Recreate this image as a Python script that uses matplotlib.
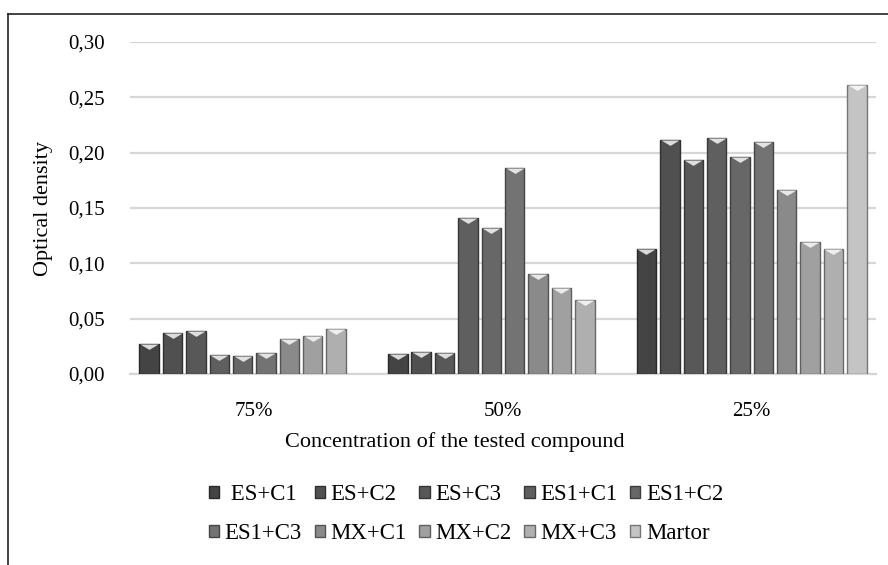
import matplotlib.pyplot as plt
import numpy as np
from matplotlib.colors import to_rgb
from matplotlib.lines import Line2D

plt.rcParams['font.family'] = ['Liberation Serif', 'DejaVu Serif']

categories = ['75%', '50%', '25%']
series = [' ES+C1', 'ES+C2', 'ES+C3', 'ES1+C1', 'ES1+C2',
          'ES1+C3', 'MX+C1', 'MX+C2', 'MX+C3', 'Martor']
# one row per series: values at 75%, 50%, 25%
values = [
    [0.027, 0.018, 0.113],
    [0.037, 0.020, 0.211],
    [0.039, 0.019, 0.193],
    [0.017, 0.141, 0.213],
    [0.016, 0.132, 0.196],
    [0.019, 0.186, 0.210],
    [0.032, 0.090, 0.166],
    [0.034, 0.078, 0.119],
    [0.041, 0.067, 0.113],
    [np.nan, np.nan, 0.261],  # no Martor bar at 75% and 50%
]
colors = ['#444444', '#505050', '#585858', '#5f5f5f', '#676767',
          '#737373', '#8a8a8a', '#a0a0a0', '#afafaf', '#c4c4c4']
yticks = [0.0, 0.05, 0.10, 0.15, 0.20, 0.25, 0.30]


def shade(c, f):
    r, g, b = to_rgb(c)
    if f < 0:
        return (r * (1 + f), g * (1 + f), b * (1 + f))
    return (r + (1 - r) * f, g + (1 - g) * f, b + (1 - b) * f)


fig = plt.figure(figsize=(8.88, 5.65), dpi=100)
ax = fig.add_axes([130 / 888, 1 - 374 / 565, 746 / 888, 332 / 565])

x = np.arange(len(categories))
slot = 0.094
width = 0.078
tri = [(-1, 0), (1, 0), (0, -0.6)]
handles = []
for i, name in enumerate(series):
    pos = x + (i - 4.5) * slot
    b = ax.bar(pos, values[i], width, color=colors[i], edgecolor=shade(colors[i], -0.4),
               linewidth=1.0, label=name, zorder=3)
    # bevel highlight on top of each bar
    ax.plot(pos, values[i], linestyle='none', marker=tri, markersize=13,
            markeredgewidth=0, color=shade(colors[i], 0.8), zorder=4)
    handles.append(b)

ax.set_xlim(-0.5, 2.5)
ax.set_ylim(0, 0.30)
ax.set_xticks(x)
ax.set_xticklabels(categories, fontsize=15)
ax.set_yticks(yticks)
ax.set_yticklabels([f'{v:.2f}'.replace('.', ',') for v in yticks], fontsize=15)
ax.tick_params(axis='both', length=0)
ax.tick_params(axis='y', pad=18)
ax.tick_params(axis='x', pad=20)
ax.grid(axis='y', color='#d6d6d6', linewidth=1.6, zorder=0)
for s in ['top', 'right', 'left']:
    ax.spines[s].set_visible(False)
ax.spines['bottom'].set_color('#d6d6d6')
ax.spines['bottom'].set_linewidth(1.6)

ax.set_ylabel('Optical density', fontsize=16)
ax.yaxis.set_label_coords(-0.103, 0.5)

fig.text(455 / 888, 1 - 442 / 565, 'Concentration of the tested compound',
         fontsize=16, ha='center', va='center')

# legend filled row by row like the original
order = [0, 5, 1, 6, 2, 7, 3, 8, 4, 9]
fig.legend([handles[k] for k in order], [series[k] for k in order],
           loc='center', bbox_to_anchor=(466 / 888, 1 - 514 / 565), ncol=5,
           frameon=False, fontsize=16.5, handlelength=0.45, handleheight=0.45,
           handletextpad=0.25, columnspacing=0.55, labelspacing=0.8)

# outer frame (left and top edges visible in the original)
fig.add_artist(Line2D([8 / 888, 8 / 888], [0, 1 - 14 / 565], color='#222222', linewidth=1.2))
fig.add_artist(Line2D([8 / 888, 1], [1 - 14 / 565, 1 - 14 / 565], color='#222222', linewidth=1.2))

fig.savefig('out.png', dpi=100)
